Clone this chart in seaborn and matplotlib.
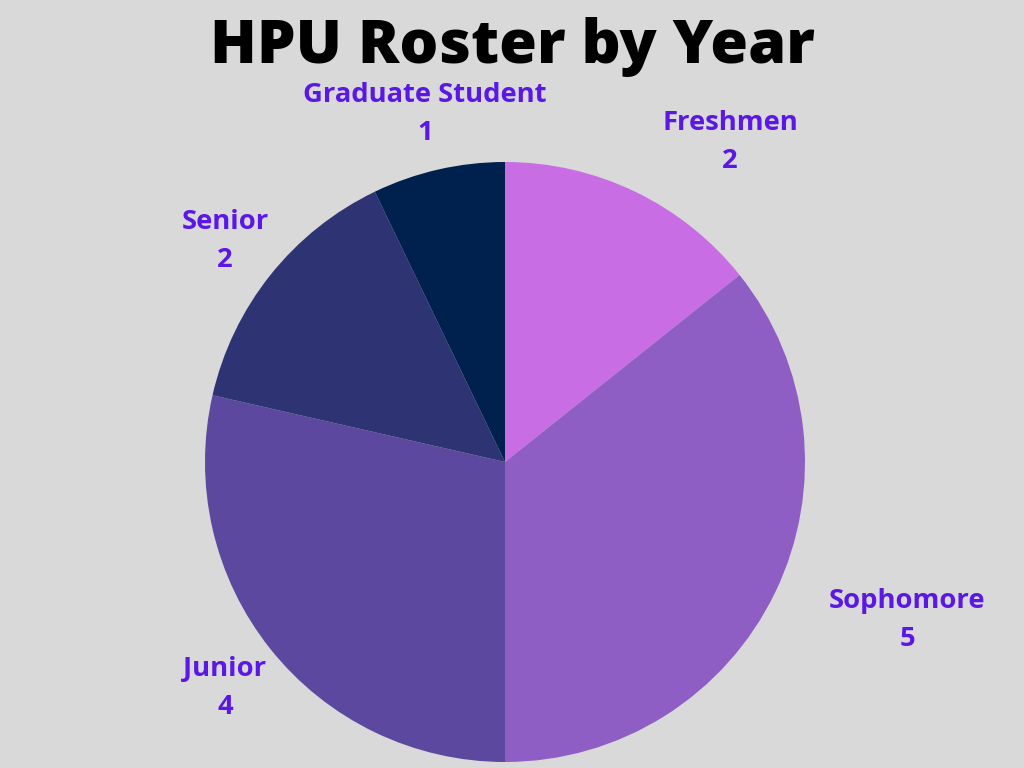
import matplotlib
matplotlib.use('Agg')
import matplotlib.pyplot as plt
import seaborn as sns

# Roster counts by class year
years = ['Freshmen', 'Sophomore', 'Junior', 'Senior', 'Graduate Student']
counts = [2, 5, 4, 2, 1]
colors = ['#C86DE3', '#8F5EC4', '#5C489F', '#2E3373', '#00204D']

# label anchor points (pixels, from top-left)
label_pos = {
    'Graduate Student': (425, 114),
    'Freshmen': (730, 142),
    'Senior': (225, 241),
    'Sophomore': (907, 620),
    'Junior': (225, 688),
}

sns.set_theme(style='white', rc={'figure.facecolor': '#D9D9D9', 'axes.facecolor': '#D9D9D9'})
plt.rcParams['font.family'] = ['Open Sans', 'DejaVu Sans']

W, H = 1024, 768
fig = plt.figure(figsize=(W / 100, H / 100), dpi=100)

# pie centred at (505, 462) with radius 300 px
cx, cy, r = 505, 462, 300
ax = fig.add_axes([(cx - r) / W, (H - cy - r) / H, 2 * r / W, 2 * r / H])
ax.pie(counts, colors=colors, startangle=90, counterclock=False, radius=1,
       wedgeprops={'linewidth': 0})
ax.set_xlim(-1, 1)
ax.set_ylim(-1, 1)
ax.set_aspect('auto')
ax.axis('off')

for name, n in zip(years, counts):
    x, y = label_pos[name]
    fig.text(x / W, 1 - y / H, f'{name}\n{n}', ha='center', va='center',
             fontsize=19.7, fontweight='bold', color='#5B17E6', linespacing=1.62)

fig.text(512 / W, 1 - 47 / H, 'HPU Roster by Year', ha='center', va='center',
         fontsize=44, fontweight='heavy', color='black')

fig.savefig('out.png', dpi=100, facecolor=fig.get_facecolor())
